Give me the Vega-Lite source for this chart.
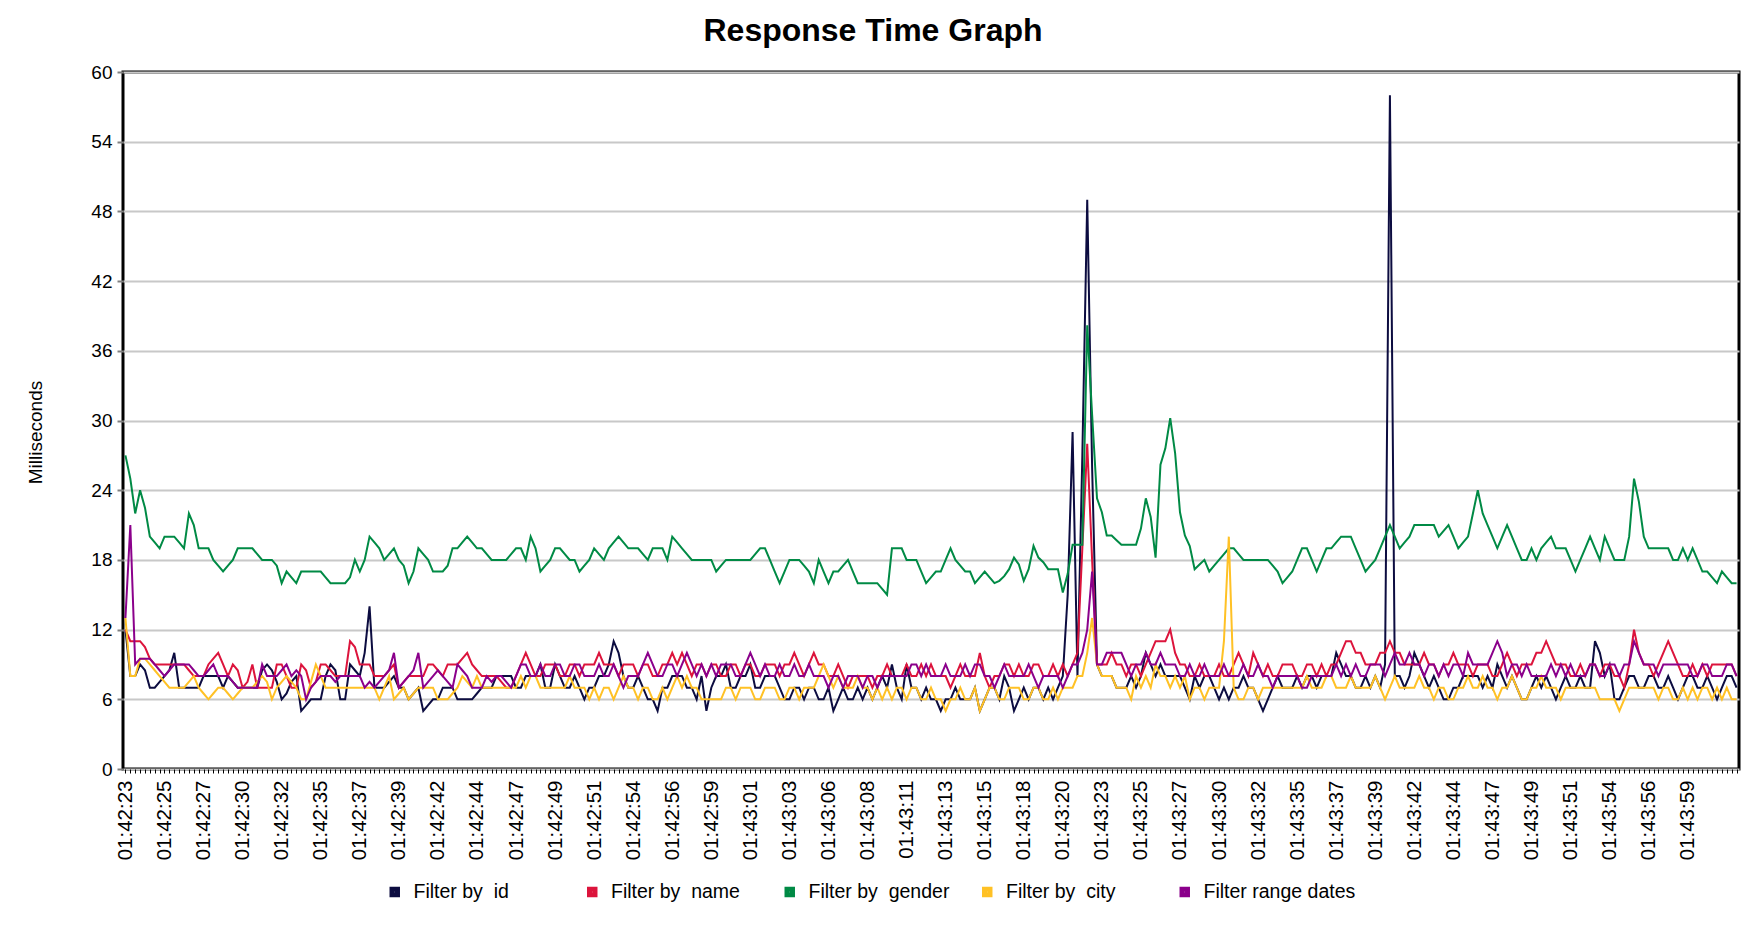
{
"$schema":"https://vega.github.io/schema/vega-lite/v6.json",
"width":1616,"height":697,
"autosize":"none",
"padding":{"left":123,"top":72,"right":7,"bottom":157},
"background":"white",
"config":{"view":{"stroke":"black","strokeWidth":3},"font":"Liberation Sans"},
"title":{"text":"Response Time Graph","fontSize":32,"fontWeight":"bold","font":"Liberation Sans","color":"black","anchor":"middle","frame":"group","dx":-58,"offset":15},
"data":{"values":[
{"t":"01:42:23.0","id":12,"name":12,"gender":27,"city":13,"range":13},
{"t":"01:42:23.3","id":8,"name":11,"gender":25,"city":8,"range":21},
{"t":"01:42:23.6","id":8,"name":11,"gender":22,"city":8,"range":9},
{"t":"01:42:23.9","id":9,"name":11,"gender":24,"city":9.5,"range":9.5},
{"t":"01:42:24.2","id":8.5,"name":10.5,"gender":22.5,"city":9.5,"range":9.5},
{"t":"01:42:24.5","id":7,"name":9.5,"gender":20,"city":9,"range":9.5},
{"t":"01:42:24.8","id":7,"name":9,"gender":19.5,"city":8.5,"range":9},
{"t":"01:42:25.1","id":7.5,"name":9,"gender":19,"city":8,"range":8.5},
{"t":"01:42:25.4","id":8,"name":9,"gender":20,"city":7.5,"range":8},
{"t":"01:42:25.7","id":8.5,"name":9,"gender":20,"city":7,"range":8.5},
{"t":"01:42:26.0","id":10,"name":9,"gender":20,"city":7,"range":9},
{"t":"01:42:26.3","id":7,"name":9,"gender":19.5,"city":7,"range":9},
{"t":"01:42:26.6","id":7,"name":9,"gender":19,"city":7,"range":9},
{"t":"01:42:26.9","id":7,"name":8.5,"gender":22,"city":7.5,"range":9},
{"t":"01:42:27.2","id":7,"name":8,"gender":21,"city":8,"range":8.5},
{"t":"01:42:27.5","id":7,"name":8,"gender":19,"city":7,"range":8},
{"t":"01:42:27.8","id":8,"name":8,"gender":19,"city":6.5,"range":8},
{"t":"01:42:28.1","id":8,"name":9,"gender":19,"city":6,"range":8.5},
{"t":"01:42:28.4","id":8,"name":9.5,"gender":18,"city":6.5,"range":9},
{"t":"01:42:28.7","id":8,"name":10,"gender":17.5,"city":7,"range":8},
{"t":"01:42:29.0","id":7,"name":9,"gender":17,"city":7,"range":8},
{"t":"01:42:29.3","id":8,"name":8,"gender":17.5,"city":6.5,"range":8},
{"t":"01:42:29.6","id":7.5,"name":9,"gender":18,"city":6,"range":7.5},
{"t":"01:42:29.9","id":7,"name":8.5,"gender":19,"city":6.5,"range":7},
{"t":"01:42:30.2","id":7,"name":7,"gender":19,"city":7,"range":7},
{"t":"01:42:30.5","id":7,"name":7.5,"gender":19,"city":7,"range":7},
{"t":"01:42:30.8","id":7,"name":9,"gender":19,"city":7,"range":7},
{"t":"01:42:31.1","id":7,"name":7,"gender":18.5,"city":7.5,"range":7},
{"t":"01:42:31.4","id":8.5,"name":7,"gender":18,"city":8,"range":9},
{"t":"01:42:31.7","id":9,"name":7,"gender":18,"city":7.5,"range":8},
{"t":"01:42:32.0","id":8.5,"name":7,"gender":18,"city":6,"range":8},
{"t":"01:42:32.3","id":7.5,"name":9,"gender":17.5,"city":7,"range":8},
{"t":"01:42:32.6","id":6,"name":9,"gender":16,"city":7.5,"range":8.5},
{"t":"01:42:32.9","id":6.5,"name":8,"gender":17,"city":8,"range":9},
{"t":"01:42:33.2","id":7.5,"name":7,"gender":16.5,"city":7.5,"range":8},
{"t":"01:42:33.5","id":8,"name":7,"gender":16,"city":7,"range":8.5},
{"t":"01:42:33.8","id":5,"name":9,"gender":17,"city":6,"range":8},
{"t":"01:42:34.1","id":5.5,"name":8.5,"gender":17,"city":6,"range":6},
{"t":"01:42:34.4","id":6,"name":7,"gender":17,"city":7.5,"range":7},
{"t":"01:42:34.7","id":6,"name":7.5,"gender":17,"city":9,"range":7.5},
{"t":"01:42:35.0","id":6,"name":9,"gender":17,"city":8,"range":8},
{"t":"01:42:35.3","id":8,"name":9,"gender":16.5,"city":7,"range":8},
{"t":"01:42:35.6","id":9,"name":8.5,"gender":16,"city":7,"range":8},
{"t":"01:42:35.9","id":8.5,"name":8,"gender":16,"city":7,"range":7.5},
{"t":"01:42:36.2","id":6,"name":8,"gender":16,"city":7,"range":8},
{"t":"01:42:36.5","id":6,"name":8,"gender":16,"city":7,"range":8},
{"t":"01:42:36.8","id":9,"name":11,"gender":16.5,"city":7,"range":8},
{"t":"01:42:37.1","id":8.5,"name":10.5,"gender":18,"city":7,"range":8},
{"t":"01:42:37.4","id":8,"name":9,"gender":17,"city":7,"range":8},
{"t":"01:42:37.7","id":10,"name":9,"gender":18,"city":7,"range":7},
{"t":"01:42:38.0","id":14,"name":9,"gender":20,"city":7,"range":7.5},
{"t":"01:42:38.3","id":7,"name":8,"gender":19.5,"city":7,"range":7},
{"t":"01:42:38.6","id":7,"name":8,"gender":19,"city":6,"range":7.5},
{"t":"01:42:38.9","id":7,"name":8,"gender":18,"city":7,"range":8},
{"t":"01:42:39.2","id":7.5,"name":8.5,"gender":18.5,"city":8,"range":8.5},
{"t":"01:42:39.5","id":8,"name":9,"gender":19,"city":6,"range":10},
{"t":"01:42:39.8","id":7,"name":7,"gender":18,"city":6.5,"range":7},
{"t":"01:42:40.1","id":7,"name":7.5,"gender":17.5,"city":7,"range":7.5},
{"t":"01:42:40.4","id":6,"name":8,"gender":16,"city":6,"range":8},
{"t":"01:42:40.7","id":6.5,"name":8,"gender":17,"city":6.5,"range":8.5},
{"t":"01:42:41.0","id":7,"name":8,"gender":19,"city":7,"range":10},
{"t":"01:42:41.3","id":5,"name":8,"gender":18.5,"city":7,"range":7},
{"t":"01:42:41.6","id":5.5,"name":9,"gender":18,"city":7,"range":7.5},
{"t":"01:42:41.9","id":6,"name":9,"gender":17,"city":7,"range":8},
{"t":"01:42:42.2","id":6,"name":8.5,"gender":17,"city":6,"range":8.5},
{"t":"01:42:42.5","id":7,"name":8,"gender":17,"city":6,"range":8},
{"t":"01:42:42.8","id":7,"name":9,"gender":17.5,"city":6,"range":7.5},
{"t":"01:42:43.1","id":7,"name":9,"gender":19,"city":6.5,"range":7},
{"t":"01:42:43.4","id":6,"name":9,"gender":19,"city":7,"range":9},
{"t":"01:42:43.7","id":6,"name":9.5,"gender":19.5,"city":8,"range":8.5},
{"t":"01:42:44.0","id":6,"name":10,"gender":20,"city":7.5,"range":8},
{"t":"01:42:44.3","id":6,"name":9,"gender":19.5,"city":7,"range":7},
{"t":"01:42:44.6","id":6.5,"name":8.5,"gender":19,"city":8,"range":7},
{"t":"01:42:44.9","id":7,"name":8,"gender":19,"city":7,"range":7},
{"t":"01:42:45.2","id":7,"name":8,"gender":18.5,"city":7,"range":8},
{"t":"01:42:45.5","id":7,"name":8,"gender":18,"city":7,"range":7.5},
{"t":"01:42:45.8","id":8,"name":8,"gender":18,"city":7,"range":8},
{"t":"01:42:46.1","id":8,"name":7.5,"gender":18,"city":7,"range":8},
{"t":"01:42:46.4","id":8,"name":7,"gender":18,"city":7,"range":7.5},
{"t":"01:42:46.7","id":8,"name":7,"gender":18.5,"city":7,"range":7},
{"t":"01:42:47.0","id":7,"name":8,"gender":19,"city":7,"range":8},
{"t":"01:42:47.3","id":7,"name":9,"gender":19,"city":8,"range":9},
{"t":"01:42:47.6","id":8,"name":10,"gender":18,"city":7,"range":9},
{"t":"01:42:47.9","id":8,"name":9,"gender":20,"city":8,"range":8},
{"t":"01:42:48.2","id":8,"name":8,"gender":19,"city":8,"range":8},
{"t":"01:42:48.5","id":9,"name":8,"gender":17,"city":7,"range":9},
{"t":"01:42:48.8","id":7,"name":9,"gender":17.5,"city":7,"range":8},
{"t":"01:42:49.1","id":7,"name":9,"gender":18,"city":7,"range":8},
{"t":"01:42:49.4","id":9,"name":9,"gender":19,"city":7,"range":9},
{"t":"01:42:49.7","id":8,"name":8,"gender":19,"city":7,"range":9},
{"t":"01:42:50.0","id":7,"name":8,"gender":18.5,"city":7,"range":8},
{"t":"01:42:50.3","id":7,"name":9,"gender":18,"city":8,"range":8},
{"t":"01:42:50.6","id":8,"name":9,"gender":18,"city":7,"range":9},
{"t":"01:42:50.9","id":7,"name":8,"gender":17,"city":7,"range":9},
{"t":"01:42:51.2","id":6,"name":9,"gender":17.5,"city":7,"range":8},
{"t":"01:42:51.5","id":7,"name":9,"gender":18,"city":6,"range":8},
{"t":"01:42:51.8","id":7,"name":9,"gender":19,"city":7,"range":8},
{"t":"01:42:52.1","id":8,"name":10,"gender":18.5,"city":6,"range":9},
{"t":"01:42:52.4","id":8,"name":9,"gender":18,"city":7,"range":8},
{"t":"01:42:52.7","id":9,"name":9,"gender":19,"city":7,"range":8},
{"t":"01:42:53.0","id":11,"name":9,"gender":19.5,"city":6,"range":9},
{"t":"01:42:53.3","id":10,"name":8,"gender":20,"city":7,"range":8},
{"t":"01:42:53.6","id":8,"name":9,"gender":19.5,"city":8,"range":7},
{"t":"01:42:53.9","id":7,"name":9,"gender":19,"city":7,"range":8},
{"t":"01:42:54.2","id":7,"name":9,"gender":19,"city":7,"range":8},
{"t":"01:42:54.5","id":8,"name":8,"gender":19,"city":6,"range":8},
{"t":"01:42:54.8","id":7,"name":9,"gender":18.5,"city":7,"range":9},
{"t":"01:42:55.1","id":6,"name":9,"gender":18,"city":7,"range":10},
{"t":"01:42:55.4","id":6,"name":8,"gender":19,"city":6,"range":9},
{"t":"01:42:55.7","id":5,"name":8,"gender":19,"city":6,"range":8},
{"t":"01:42:56.0","id":7,"name":9,"gender":19,"city":7,"range":8},
{"t":"01:42:56.3","id":7,"name":9,"gender":18,"city":6,"range":9},
{"t":"01:42:56.6","id":8,"name":10,"gender":20,"city":7,"range":9},
{"t":"01:42:56.9","id":8,"name":9,"gender":19.5,"city":8,"range":8},
{"t":"01:42:57.2","id":8,"name":10,"gender":19,"city":7,"range":9},
{"t":"01:42:57.5","id":7,"name":9,"gender":18.5,"city":8,"range":10},
{"t":"01:42:57.8","id":7,"name":8,"gender":18,"city":7,"range":9},
{"t":"01:42:58.1","id":6,"name":9,"gender":18,"city":7,"range":8},
{"t":"01:42:58.4","id":8,"name":9,"gender":18,"city":6,"range":9},
{"t":"01:42:58.7","id":5,"name":8,"gender":18,"city":6,"range":8},
{"t":"01:42:59.0","id":7,"name":9,"gender":18,"city":6,"range":9},
{"t":"01:42:59.3","id":8,"name":9,"gender":17,"city":6,"range":8},
{"t":"01:42:59.6","id":8,"name":8,"gender":17.5,"city":6,"range":9},
{"t":"01:42:59.9","id":9,"name":8,"gender":18,"city":7,"range":9},
{"t":"01:43:00.2","id":7,"name":9,"gender":18,"city":7,"range":9},
{"t":"01:43:00.5","id":7,"name":9,"gender":18,"city":6,"range":8},
{"t":"01:43:00.8","id":8,"name":8,"gender":18,"city":7,"range":8},
{"t":"01:43:01.1","id":8,"name":9,"gender":18,"city":7,"range":9},
{"t":"01:43:01.4","id":9,"name":9,"gender":18,"city":7,"range":10},
{"t":"01:43:01.7","id":7,"name":8,"gender":18.5,"city":6,"range":9},
{"t":"01:43:02.0","id":7,"name":8,"gender":19,"city":6,"range":8},
{"t":"01:43:02.3","id":8,"name":9,"gender":19,"city":7,"range":9},
{"t":"01:43:02.6","id":8,"name":9,"gender":18,"city":7,"range":8},
{"t":"01:43:02.9","id":8,"name":9,"gender":17,"city":7,"range":8},
{"t":"01:43:03.2","id":7,"name":8,"gender":16,"city":6,"range":9},
{"t":"01:43:03.5","id":6,"name":9,"gender":17,"city":6,"range":8},
{"t":"01:43:03.8","id":6,"name":9,"gender":18,"city":7,"range":8},
{"t":"01:43:04.1","id":7,"name":10,"gender":18,"city":7,"range":9},
{"t":"01:43:04.4","id":7,"name":9,"gender":18,"city":6,"range":8},
{"t":"01:43:04.7","id":6,"name":8,"gender":17.5,"city":7,"range":8},
{"t":"01:43:05.0","id":7,"name":9,"gender":17,"city":7,"range":9},
{"t":"01:43:05.3","id":7,"name":10,"gender":16,"city":7,"range":8},
{"t":"01:43:05.6","id":6,"name":9,"gender":18,"city":8,"range":8},
{"t":"01:43:05.9","id":6,"name":9,"gender":17,"city":9,"range":8},
{"t":"01:43:06.2","id":7,"name":8,"gender":16,"city":8,"range":7},
{"t":"01:43:06.5","id":5,"name":8,"gender":17,"city":7,"range":8},
{"t":"01:43:06.8","id":6,"name":9,"gender":17,"city":8,"range":8},
{"t":"01:43:07.1","id":7,"name":8,"gender":17.5,"city":7,"range":7},
{"t":"01:43:07.4","id":6,"name":7,"gender":18,"city":7,"range":8},
{"t":"01:43:07.7","id":6,"name":8,"gender":17,"city":7,"range":8},
{"t":"01:43:08.0","id":7,"name":8,"gender":16,"city":8,"range":8},
{"t":"01:43:08.3","id":6,"name":8,"gender":16,"city":7,"range":7},
{"t":"01:43:08.6","id":7,"name":8,"gender":16,"city":7,"range":8},
{"t":"01:43:08.9","id":6,"name":7,"gender":16,"city":6,"range":8},
{"t":"01:43:09.2","id":7,"name":8,"gender":16,"city":7,"range":7},
{"t":"01:43:09.5","id":8,"name":8,"gender":15.5,"city":6,"range":8},
{"t":"01:43:09.8","id":7,"name":9,"gender":15,"city":7,"range":8},
{"t":"01:43:10.1","id":9,"name":8,"gender":19,"city":6,"range":8},
{"t":"01:43:10.4","id":7,"name":8,"gender":19,"city":7,"range":8},
{"t":"01:43:10.7","id":6,"name":8,"gender":19,"city":7,"range":8},
{"t":"01:43:11.0","id":9,"name":9,"gender":18,"city":6,"range":8},
{"t":"01:43:11.3","id":7,"name":8,"gender":18,"city":7,"range":9},
{"t":"01:43:11.6","id":7,"name":8,"gender":18,"city":7,"range":9},
{"t":"01:43:11.9","id":6,"name":9,"gender":17,"city":6,"range":8},
{"t":"01:43:12.2","id":7,"name":8,"gender":16,"city":6,"range":9},
{"t":"01:43:12.5","id":6,"name":9,"gender":16.5,"city":7,"range":8},
{"t":"01:43:12.8","id":6,"name":8,"gender":17,"city":6,"range":8},
{"t":"01:43:13.1","id":5,"name":8,"gender":17,"city":6,"range":8},
{"t":"01:43:13.4","id":6,"name":8,"gender":18,"city":5,"range":9},
{"t":"01:43:13.7","id":6,"name":7,"gender":19,"city":6,"range":8},
{"t":"01:43:14.0","id":7,"name":8,"gender":18,"city":6,"range":8},
{"t":"01:43:14.3","id":6,"name":9,"gender":17.5,"city":7,"range":8},
{"t":"01:43:14.6","id":6,"name":8,"gender":17,"city":6,"range":9},
{"t":"01:43:14.9","id":6,"name":8,"gender":17,"city":6,"range":8},
{"t":"01:43:15.2","id":7,"name":8,"gender":16,"city":7,"range":9},
{"t":"01:43:15.5","id":5,"name":10,"gender":16.5,"city":5,"range":9},
{"t":"01:43:15.8","id":6,"name":8,"gender":17,"city":6,"range":8},
{"t":"01:43:16.1","id":7,"name":7,"gender":16.5,"city":7,"range":8},
{"t":"01:43:16.4","id":7,"name":8,"gender":16,"city":7,"range":7},
{"t":"01:43:16.7","id":6,"name":8,"gender":16.2,"city":6,"range":8},
{"t":"01:43:17.0","id":8,"name":9,"gender":16.6,"city":6,"range":9},
{"t":"01:43:17.3","id":7,"name":9,"gender":17.2,"city":7,"range":8},
{"t":"01:43:17.6","id":5,"name":8,"gender":18.2,"city":7,"range":8},
{"t":"01:43:17.9","id":6,"name":9,"gender":17.6,"city":7,"range":8},
{"t":"01:43:18.2","id":7,"name":8,"gender":16.2,"city":6,"range":8},
{"t":"01:43:18.5","id":6,"name":8,"gender":17.2,"city":6,"range":9},
{"t":"01:43:18.8","id":7,"name":9,"gender":19.2,"city":7,"range":8},
{"t":"01:43:19.1","id":7,"name":9,"gender":18.2,"city":7,"range":7},
{"t":"01:43:19.4","id":6,"name":8,"gender":17.8,"city":6,"range":8},
{"t":"01:43:19.7","id":7,"name":8,"gender":17.2,"city":6,"range":8},
{"t":"01:43:20.0","id":6,"name":9,"gender":17.2,"city":7,"range":8},
{"t":"01:43:20.3","id":7,"name":8,"gender":17.2,"city":6,"range":8},
{"t":"01:43:20.6","id":8,"name":9,"gender":15.2,"city":7,"range":7},
{"t":"01:43:20.9","id":15,"name":8,"gender":16.8,"city":7,"range":8},
{"t":"01:43:21.2","id":29,"name":9,"gender":19.3,"city":7,"range":9},
{"t":"01:43:21.5","id":8,"name":10,"gender":19.3,"city":8,"range":9},
{"t":"01:43:21.8","id":27,"name":19,"gender":19.3,"city":8,"range":10},
{"t":"01:43:22.1","id":49,"name":28,"gender":38.2,"city":10,"range":12},
{"t":"01:43:22.4","id":26,"name":18,"gender":30.5,"city":13,"range":17},
{"t":"01:43:22.7","id":9,"name":9,"gender":23.3,"city":9,"range":9},
{"t":"01:43:23.0","id":8,"name":9,"gender":22.1,"city":8,"range":9},
{"t":"01:43:23.3","id":8,"name":9,"gender":20.1,"city":8,"range":10},
{"t":"01:43:23.6","id":8,"name":10,"gender":20.1,"city":8,"range":10},
{"t":"01:43:23.9","id":7,"name":9,"gender":19.7,"city":7,"range":10},
{"t":"01:43:24.2","id":7,"name":9,"gender":19.3,"city":7,"range":10},
{"t":"01:43:24.5","id":7,"name":8,"gender":19.3,"city":7,"range":9},
{"t":"01:43:24.8","id":8,"name":9,"gender":19.3,"city":6,"range":8},
{"t":"01:43:25.1","id":7,"name":9,"gender":19.3,"city":8,"range":9},
{"t":"01:43:25.4","id":8,"name":8,"gender":20.7,"city":7,"range":9},
{"t":"01:43:25.7","id":10,"name":9,"gender":23.3,"city":8,"range":10},
{"t":"01:43:26.0","id":9,"name":10,"gender":21.7,"city":7,"range":9},
{"t":"01:43:26.3","id":8,"name":11,"gender":18.2,"city":9,"range":9},
{"t":"01:43:26.6","id":9,"name":11,"gender":26.2,"city":8,"range":10},
{"t":"01:43:26.9","id":8,"name":11,"gender":27.6,"city":8,"range":9},
{"t":"01:43:27.2","id":8,"name":12,"gender":30.2,"city":7,"range":9},
{"t":"01:43:27.5","id":8,"name":10,"gender":27.2,"city":8,"range":9},
{"t":"01:43:27.8","id":8,"name":9,"gender":22.1,"city":7,"range":8},
{"t":"01:43:28.1","id":7,"name":9,"gender":20.1,"city":8,"range":8},
{"t":"01:43:28.4","id":6,"name":8,"gender":19.2,"city":6,"range":9},
{"t":"01:43:28.7","id":8,"name":8,"gender":17.2,"city":7,"range":8},
{"t":"01:43:29.0","id":7,"name":9,"gender":17.6,"city":7,"range":8},
{"t":"01:43:29.3","id":8,"name":8,"gender":18,"city":6,"range":9},
{"t":"01:43:29.6","id":8,"name":8,"gender":17,"city":7,"range":8},
{"t":"01:43:29.9","id":7,"name":8,"gender":17.5,"city":7,"range":8},
{"t":"01:43:30.2","id":6,"name":9,"gender":18,"city":7,"range":8},
{"t":"01:43:30.5","id":7,"name":8,"gender":18.5,"city":11,"range":9},
{"t":"01:43:30.8","id":6,"name":8,"gender":19,"city":20,"range":8},
{"t":"01:43:31.1","id":7,"name":9,"gender":19,"city":7,"range":8},
{"t":"01:43:31.4","id":7,"name":10,"gender":18.5,"city":6,"range":8},
{"t":"01:43:31.7","id":8,"name":9,"gender":18,"city":6,"range":9},
{"t":"01:43:32.0","id":7,"name":8,"gender":18,"city":7,"range":8},
{"t":"01:43:32.3","id":7,"name":10,"gender":18,"city":7,"range":8},
{"t":"01:43:32.6","id":6,"name":9,"gender":18,"city":6,"range":9},
{"t":"01:43:32.9","id":5,"name":8,"gender":18,"city":7,"range":8},
{"t":"01:43:33.2","id":6,"name":9,"gender":18,"city":7,"range":8},
{"t":"01:43:33.5","id":7,"name":8,"gender":17.5,"city":7,"range":7},
{"t":"01:43:33.8","id":8,"name":8,"gender":17,"city":7,"range":8},
{"t":"01:43:34.1","id":7,"name":9,"gender":16,"city":7,"range":8},
{"t":"01:43:34.4","id":7,"name":9,"gender":16.5,"city":7,"range":8},
{"t":"01:43:34.7","id":7,"name":9,"gender":17,"city":7,"range":8},
{"t":"01:43:35.0","id":8,"name":8,"gender":18,"city":7,"range":8},
{"t":"01:43:35.3","id":7,"name":8,"gender":19,"city":7,"range":7},
{"t":"01:43:35.6","id":8,"name":9,"gender":19,"city":8,"range":7},
{"t":"01:43:35.9","id":8,"name":9,"gender":18,"city":7,"range":8},
{"t":"01:43:36.2","id":7,"name":8,"gender":17,"city":7,"range":8},
{"t":"01:43:36.5","id":8,"name":9,"gender":18,"city":7,"range":8},
{"t":"01:43:36.8","id":8,"name":8,"gender":19,"city":8,"range":8},
{"t":"01:43:37.1","id":8,"name":9,"gender":19,"city":8,"range":8},
{"t":"01:43:37.4","id":10,"name":9,"gender":19.5,"city":7,"range":9},
{"t":"01:43:37.7","id":9,"name":10,"gender":20,"city":7,"range":8},
{"t":"01:43:38.0","id":8,"name":11,"gender":20,"city":7,"range":9},
{"t":"01:43:38.3","id":8,"name":11,"gender":20,"city":8,"range":8},
{"t":"01:43:38.6","id":7,"name":10,"gender":19,"city":7,"range":9},
{"t":"01:43:38.9","id":7,"name":10,"gender":18,"city":7,"range":8},
{"t":"01:43:39.2","id":8,"name":9,"gender":17,"city":7,"range":8},
{"t":"01:43:39.5","id":7,"name":9,"gender":17.5,"city":7,"range":9},
{"t":"01:43:39.8","id":8,"name":9,"gender":18,"city":8,"range":9},
{"t":"01:43:40.1","id":7,"name":10,"gender":19,"city":7,"range":9},
{"t":"01:43:40.4","id":9,"name":10,"gender":20,"city":6,"range":8},
{"t":"01:43:40.7","id":58,"name":11,"gender":21,"city":7,"range":9},
{"t":"01:43:41.0","id":8,"name":10,"gender":20,"city":8,"range":10},
{"t":"01:43:41.3","id":8,"name":10,"gender":19,"city":7,"range":9},
{"t":"01:43:41.6","id":7,"name":9,"gender":19.5,"city":7,"range":9},
{"t":"01:43:41.9","id":8,"name":9,"gender":20,"city":7,"range":10},
{"t":"01:43:42.2","id":10,"name":9,"gender":21,"city":7,"range":9},
{"t":"01:43:42.5","id":9,"name":9,"gender":21,"city":8,"range":9},
{"t":"01:43:42.8","id":8,"name":10,"gender":21,"city":7,"range":8},
{"t":"01:43:43.1","id":7,"name":9,"gender":21,"city":7,"range":9},
{"t":"01:43:43.4","id":8,"name":9,"gender":21,"city":6,"range":9},
{"t":"01:43:43.7","id":7,"name":8,"gender":20,"city":7,"range":8},
{"t":"01:43:44.0","id":6,"name":9,"gender":20.5,"city":7,"range":9},
{"t":"01:43:44.3","id":6,"name":9,"gender":21,"city":6,"range":8},
{"t":"01:43:44.6","id":7,"name":10,"gender":20,"city":6,"range":9},
{"t":"01:43:44.9","id":7,"name":9,"gender":19,"city":7,"range":9},
{"t":"01:43:45.2","id":8,"name":9,"gender":19.5,"city":7,"range":8},
{"t":"01:43:45.5","id":8,"name":9,"gender":20,"city":8,"range":10},
{"t":"01:43:45.8","id":8,"name":8,"gender":22,"city":7,"range":9},
{"t":"01:43:46.1","id":8,"name":9,"gender":24,"city":7,"range":9},
{"t":"01:43:46.4","id":7,"name":9,"gender":22,"city":8,"range":9},
{"t":"01:43:46.7","id":8,"name":9,"gender":21,"city":7,"range":9},
{"t":"01:43:47.0","id":7,"name":8,"gender":20,"city":7,"range":10},
{"t":"01:43:47.3","id":9,"name":8,"gender":19,"city":6,"range":11},
{"t":"01:43:47.6","id":8,"name":9,"gender":20,"city":7,"range":10},
{"t":"01:43:47.9","id":7,"name":10,"gender":21,"city":7,"range":8},
{"t":"01:43:48.2","id":8,"name":9,"gender":20,"city":8,"range":9},
{"t":"01:43:48.5","id":7,"name":8,"gender":19,"city":7,"range":9},
{"t":"01:43:48.8","id":6,"name":9,"gender":18,"city":6,"range":8},
{"t":"01:43:49.1","id":6,"name":9,"gender":18,"city":6,"range":9},
{"t":"01:43:49.4","id":7,"name":9,"gender":19,"city":7,"range":8},
{"t":"01:43:49.7","id":8,"name":10,"gender":18,"city":7,"range":8},
{"t":"01:43:50.0","id":7,"name":10,"gender":19,"city":8,"range":8},
{"t":"01:43:50.3","id":8,"name":11,"gender":19.5,"city":7,"range":8},
{"t":"01:43:50.6","id":7,"name":10,"gender":20,"city":7,"range":9},
{"t":"01:43:50.9","id":6,"name":9,"gender":19,"city":7,"range":8},
{"t":"01:43:51.2","id":7,"name":9,"gender":19,"city":6,"range":9},
{"t":"01:43:51.5","id":8,"name":9,"gender":19,"city":7,"range":8},
{"t":"01:43:51.8","id":7,"name":8,"gender":18,"city":7,"range":9},
{"t":"01:43:52.1","id":7,"name":8,"gender":17,"city":7,"range":8},
{"t":"01:43:52.4","id":8,"name":9,"gender":18,"city":7,"range":8},
{"t":"01:43:52.7","id":7,"name":8,"gender":19,"city":7,"range":8},
{"t":"01:43:53.0","id":7,"name":9,"gender":20,"city":7,"range":9},
{"t":"01:43:53.3","id":11,"name":9,"gender":19,"city":7,"range":9},
{"t":"01:43:53.6","id":10,"name":8,"gender":18,"city":6,"range":8},
{"t":"01:43:53.9","id":8,"name":9,"gender":20,"city":6,"range":8},
{"t":"01:43:54.2","id":9,"name":9,"gender":19,"city":6,"range":9},
{"t":"01:43:54.5","id":6,"name":8,"gender":18,"city":6,"range":9},
{"t":"01:43:54.8","id":6,"name":8,"gender":18,"city":5,"range":8},
{"t":"01:43:55.1","id":7,"name":7,"gender":18,"city":6,"range":9},
{"t":"01:43:55.4","id":8,"name":9,"gender":20,"city":7,"range":9},
{"t":"01:43:55.7","id":8,"name":12,"gender":25,"city":7,"range":11},
{"t":"01:43:56.0","id":7,"name":10,"gender":23,"city":7,"range":10},
{"t":"01:43:56.3","id":7,"name":9,"gender":20,"city":7,"range":9},
{"t":"01:43:56.6","id":8,"name":9,"gender":19,"city":7,"range":9},
{"t":"01:43:56.9","id":8,"name":8,"gender":19,"city":7,"range":9},
{"t":"01:43:57.2","id":7,"name":9,"gender":19,"city":6,"range":8},
{"t":"01:43:57.5","id":7,"name":10,"gender":19,"city":7,"range":9},
{"t":"01:43:57.8","id":8,"name":11,"gender":19,"city":7,"range":9},
{"t":"01:43:58.1","id":7,"name":10,"gender":18,"city":6,"range":9},
{"t":"01:43:58.4","id":6,"name":9,"gender":18,"city":6,"range":9},
{"t":"01:43:58.7","id":7,"name":8,"gender":19,"city":7,"range":9},
{"t":"01:43:59.0","id":8,"name":8,"gender":18,"city":6,"range":9},
{"t":"01:43:59.3","id":8,"name":9,"gender":19,"city":7,"range":8},
{"t":"01:43:59.6","id":7,"name":8,"gender":18,"city":6,"range":8},
{"t":"01:43:59.9","id":7,"name":9,"gender":17,"city":7,"range":9},
{"t":"01:44:00.2","id":8,"name":8,"gender":17,"city":7,"range":9},
{"t":"01:44:00.5","id":7,"name":9,"gender":16.5,"city":6,"range":8},
{"t":"01:44:00.8","id":6,"name":9,"gender":16,"city":7,"range":8},
{"t":"01:44:01.1","id":7,"name":9,"gender":17,"city":6,"range":8},
{"t":"01:44:01.4","id":8,"name":9,"gender":16.5,"city":7,"range":9},
{"t":"01:44:01.7","id":8,"name":9,"gender":16,"city":6,"range":9},
{"t":"01:44:02.0","id":7,"name":8,"gender":16,"city":6,"range":8}
]},
"transform":[{"fold":["id","name","gender","city","range"],"as":["s","v"]}],
"mark":{"type":"line","strokeWidth":2,"interpolate":"linear"},
"encoding":{
"x":{"field":"t","type":"ordinal","scale":{"type":"point","padding":0.5},
"axis":{"title":null,"labelAngle":270,"labelAlign":"right","labelBaseline":"middle","labelExpr":"(round(datum.index*330)%8==0 && round(datum.index*330)<=320) ? slice(datum.value,0,8) : ''","labelOverlap":false,"labelBound":false,"labelFlush":false,"labelFontSize":20.5,"labelColor":"black","labelFont":"Liberation Sans","labelPadding":7,"tickSize":4,"tickColor":"black","tickWidth":1,"domain":false,"grid":false}},
"y":{"field":"v","type":"quantitative","scale":{"domain":[0,60],"nice":false,"zero":true},
"axis":{"title":"Milliseconds","values":[0,6,12,18,24,30,36,42,48,54,60],"grid":true,"gridColor":"#c8c8c8","gridWidth":2,"domain":false,"tickSize":6,"tickColor":"#808080","tickWidth":2,"labelFontSize":19,"labelColor":"black","labelFont":"Liberation Sans","labelPadding":5,"titleFontSize":19,"titleFontWeight":"normal","titleFont":"Liberation Sans","titleColor":"black","titleAngle":270,"titleAlign":"center","titleBaseline":"middle","titleX":-88,"titleY":360}},
"color":{"field":"s","type":"nominal","sort":["id","name","gender","city","range"],
"scale":{"domain":["id","name","gender","city","range"],"range":["#0c0c40","#dc143c","#008a45","#ffc125","#8b008b"]},
"legend":{"title":null,"orient":"none","legendX":262,"legendY":810,"direction":"horizontal","columns":5,"gridAlign":"all","columnPadding":13.5,"padding":0,"symbolType":"square","symbolSize":30,"symbolStrokeWidth":5,"labelFontSize":19.5,"labelColor":"black","labelFont":"Liberation Sans","labelOffset":9,"labelExpr":"datum.label == 'range' ? 'Filter range dates' : 'Filter by\u00a0 ' + datum.label"}}
}
}
